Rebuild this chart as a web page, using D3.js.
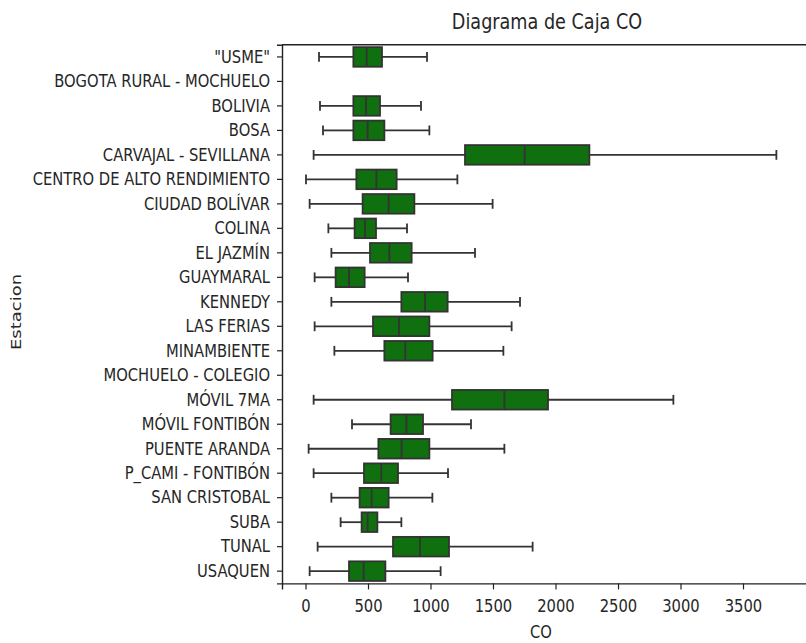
<!DOCTYPE html>
<html>
<head>
<meta charset="utf-8">
<script src="https://cdn.jsdelivr.net/npm/d3@7"></script>
<style>
  body { margin: 0; background: #fff; }
  text { font-family: "DejaVu Sans", sans-serif; fill: #262626; }
</style>
</head>
<body>
<svg id="chart" width="806" height="643"></svg>
<script>
//stations and box stats, null = no data
var stations = ['"USME"', "BOGOTA RURAL - MOCHUELO", "BOLIVIA", "BOSA", "CARVAJAL - SEVILLANA",
	"CENTRO DE ALTO RENDIMIENTO", "CIUDAD BOLÍVAR", "COLINA", "EL JAZMÍN", "GUAYMARAL", "KENNEDY",
	"LAS FERIAS", "MINAMBIENTE", "MOCHUELO - COLEGIO", "MÓVIL 7MA", "MÓVIL FONTIBÓN", "PUENTE ARANDA",
	"P_CAMI - FONTIBÓN", "SAN CRISTOBAL", "SUBA", "TUNAL", "USAQUEN"];
var whiskerLow  = [108, null, 116, 140, 65,   4,   33,  183, 207, 73,  207, 73,  231,  null, 65,   372, 25,  65,  207, 281, 97,  33];
var q1          = [383, null, 383, 383, 1276, 407, 457, 393, 516, 241, 767, 540, 631,  null, 1172, 681, 583, 468, 433, 449, 700, 348];
var median      = [489, null, 484, 497, 1753, 567, 665, 476, 671, 348, 956, 748, 799,  null, 1591, 807, 769, 607, 529, 497, 916, 465];
var q3          = [612, null, 596, 631, 2271, 729, 871, 564, 849, 473, 1137, 991, 1017, null, 1940, 940, 991, 740, 665, 575, 1148, 639];
var whiskerHigh = [972, null, 924, 991, 3767, 1215, 1497, 812, 1356, 820, 1716, 1649, 1583, null, 2943, 1324, 1591, 1140, 1015, 767, 1817, 1081];
var xTicks = [0, 500, 1000, 1500, 2000, 2500, 3000, 3500];

var boxFill = "#107010",
	lineColor = "#333333",
	sx = 0.82; //picture is squeezed sideways, so text is too

var svg = d3.select("#chart");

//axes box (right side runs off the picture)
var axLeft = 282, axRight = 813, axTop = 44.7, axBottom = 583.4;

var x = d3.scaleLinear()
	.domain([-188, 4060])
	.range([axLeft, axRight]);

var y = d3.scaleBand()
	.domain(stations)
	.range([axTop, axBottom])
	.paddingInner(0)
	.paddingOuter(0);

var bw = y.bandwidth(),
	boxH = bw * 0.8,
	capH = boxH * 0.5;

var rows = stations.map(function(s, i){
	return {name: s, lo: whiskerLow[i], q1: q1[i], med: median[i], q3: q3[i], hi: whiskerHigh[i]};
}).filter(function(d){ return d.med != null; });

//top spine
svg.append("line")
	.attr("x1", axLeft).attr("x2", axRight)
	.attr("y1", axTop).attr("y2", axTop)
	.attr("stroke", "#222").attr("stroke-width", 1.4);

//x axis
var xAxis = svg.append("g")
	.attr("transform", "translate(0," + axBottom + ")")
	.call(d3.axisBottom(x).tickValues(xTicks).tickSizeOuter(0).tickSize(6).tickFormat(d3.format("d")));
xAxis.select(".domain").attr("stroke", "#222").attr("stroke-width", 1.4);
xAxis.selectAll(".tick line").attr("stroke", "#222").attr("stroke-width", 1.2);
xAxis.selectAll(".tick text")
	.attr("y", 16)
	.attr("transform", "scale(" + sx + ",1)")
	.style("font-size", "18px");

//y axis
var yAxis = svg.append("g")
	.attr("transform", "translate(" + axLeft + ",0)")
	.call(d3.axisLeft(y).tickSizeOuter(0).tickSize(5));
yAxis.select(".domain").attr("stroke", "#222").attr("stroke-width", 1.4);
yAxis.selectAll(".tick line").attr("stroke", "#222").attr("stroke-width", 1.2);
yAxis.selectAll(".tick text")
	.attr("x", -12 / sx)
	.attr("transform", "scale(" + sx + ",1)")
	.style("font-size", "18px");

//boxes
var g = svg.selectAll(".box")
	.data(rows)
	.enter().append("g")
	.attr("class", "box")
	.attr("transform", function(d){ return "translate(0," + (y(d.name) + bw / 2) + ")"; });

//whiskers
g.append("line")
	.attr("x1", function(d){ return x(d.lo); })
	.attr("x2", function(d){ return x(d.q1); })
	.attr("stroke", lineColor).attr("stroke-width", 1.8);
g.append("line")
	.attr("x1", function(d){ return x(d.q3); })
	.attr("x2", function(d){ return x(d.hi); })
	.attr("stroke", lineColor).attr("stroke-width", 1.8);

//caps
["lo", "hi"].forEach(function(k){
	g.append("line")
		.attr("x1", function(d){ return x(d[k]); })
		.attr("x2", function(d){ return x(d[k]); })
		.attr("y1", -capH / 2).attr("y2", capH / 2)
		.attr("stroke", lineColor).attr("stroke-width", 1.8);
});

g.append("rect")
	.attr("x", function(d){ return x(d.q1); })
	.attr("width", function(d){ return x(d.q3) - x(d.q1); })
	.attr("y", -boxH / 2)
	.attr("height", boxH)
	.attr("fill", boxFill)
	.attr("stroke", lineColor).attr("stroke-width", 1.8);

//median
g.append("line")
	.attr("x1", function(d){ return x(d.med); })
	.attr("x2", function(d){ return x(d.med); })
	.attr("y1", -boxH / 2).attr("y2", boxH / 2)
	.attr("stroke", lineColor).attr("stroke-width", 1.8);

//title and labels
svg.append("text")
	.attr("transform", "translate(547,29) scale(0.84,1)")
	.attr("text-anchor", "middle")
	.style("font-size", "21px")
	.text("Diagrama de Caja CO");

svg.append("text")
	.attr("transform", "translate(541,638) scale(" + sx + ",1)")
	.attr("text-anchor", "middle")
	.style("font-size", "18px")
	.text("CO");

svg.append("text")
	.attr("transform", "translate(21,312) scale(" + sx + ",1) rotate(-90)")
	.attr("text-anchor", "middle")
	.style("font-size", "18px")
	.text("Estacion");
</script>
</body>
</html>
